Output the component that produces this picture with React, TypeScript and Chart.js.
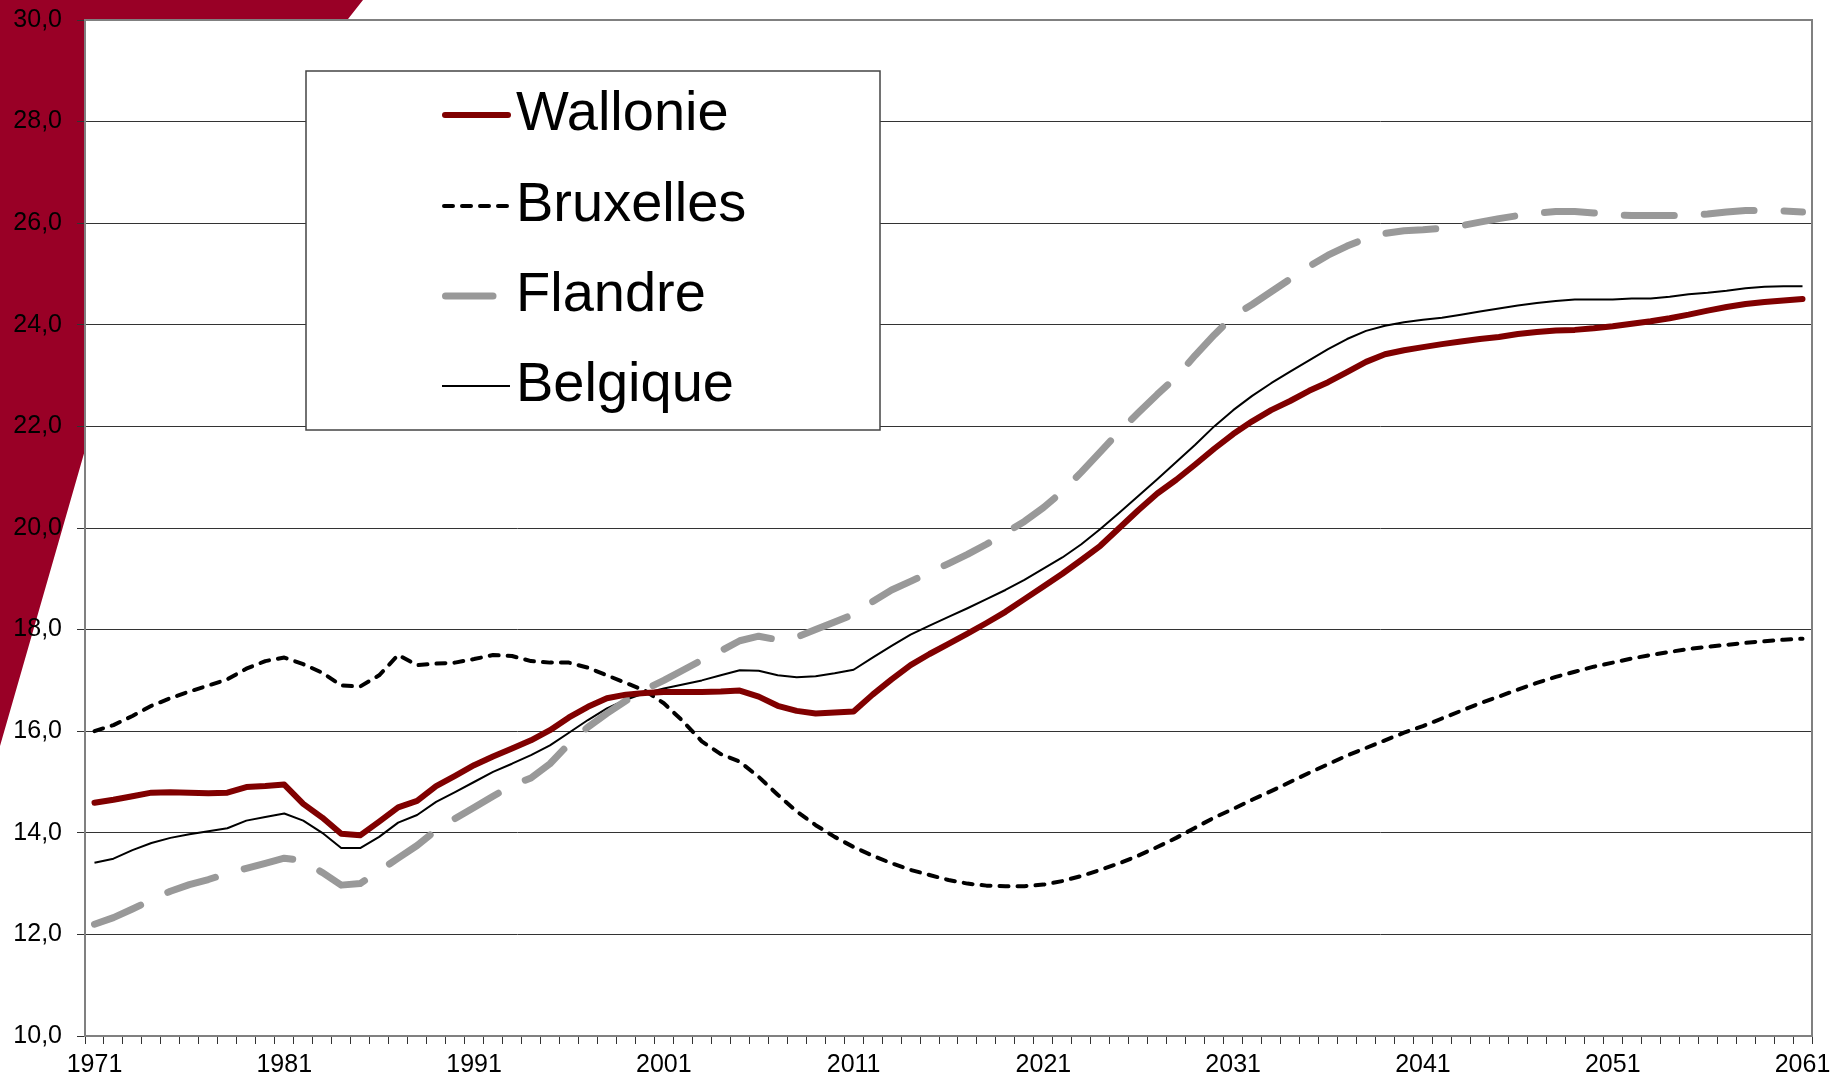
import React, { useEffect, useRef } from "react";
import { Chart, registerables } from "chart.js";

Chart.register(...registerables);

const years = [
  1971, 1972, 1973, 1974, 1975, 1976, 1977, 1978, 1979, 1980,
  1981, 1982, 1983, 1984, 1985, 1986, 1987, 1988, 1989, 1990,
  1991, 1992, 1993, 1994, 1995, 1996, 1997, 1998, 1999, 2000,
  2001, 2002, 2003, 2004, 2005, 2006, 2007, 2008, 2009, 2010,
  2011, 2012, 2013, 2014, 2015, 2016, 2017, 2018, 2019, 2020,
  2021, 2022, 2023, 2024, 2025, 2026, 2027, 2028, 2029, 2030,
  2031, 2032, 2033, 2034, 2035, 2036, 2037, 2038, 2039, 2040,
  2041, 2042, 2043, 2044, 2045, 2046, 2047, 2048, 2049, 2050,
  2051, 2052, 2053, 2054, 2055, 2056, 2057, 2058, 2059, 2060,
  2061,
];

const labeledYears = [1971, 1981, 1991, 2001, 2011, 2021, 2031, 2041, 2051, 2061];

const wallonie = [
  14.59, 14.65, 14.72, 14.79, 14.8, 14.79, 14.78, 14.79, 14.9, 14.92,
  14.95, 14.57, 14.3, 13.98, 13.95, 14.22, 14.5, 14.63, 14.92, 15.12,
  15.33, 15.5, 15.66, 15.82, 16.02, 16.27, 16.48, 16.65, 16.72, 16.75,
  16.77, 16.77, 16.77, 16.78, 16.8, 16.68, 16.5, 16.4, 16.35, 16.37,
  16.39, 16.72, 17.02, 17.3, 17.52, 17.72, 17.92, 18.13, 18.35, 18.6,
  18.85, 19.1, 19.37, 19.65, 20.0, 20.35, 20.68, 20.95, 21.25, 21.56,
  21.85, 22.1, 22.32, 22.5, 22.7, 22.87, 23.07, 23.27, 23.42, 23.5,
  23.56, 23.62, 23.67, 23.72, 23.76, 23.82, 23.86, 23.89, 23.9, 23.93,
  23.97, 24.02, 24.07, 24.13, 24.2, 24.28, 24.35, 24.41, 24.45, 24.48,
  24.51,
];

const bruxelles = [
  16.0, 16.12, 16.3, 16.5, 16.65, 16.78, 16.9, 17.02, 17.23, 17.38,
  17.45, 17.32, 17.15, 16.9, 16.88, 17.1, 17.5, 17.3, 17.33, 17.35,
  17.42, 17.5, 17.48, 17.38, 17.35, 17.35, 17.25, 17.1, 16.95, 16.8,
  16.55, 16.2, 15.8, 15.55, 15.4, 15.1, 14.75, 14.42, 14.15, 13.92,
  13.72, 13.55, 13.4, 13.27, 13.17, 13.07, 13.0, 12.96, 12.95, 12.95,
  12.98, 13.05, 13.15, 13.27, 13.4, 13.55, 13.72, 13.9, 14.1, 14.3,
  14.47, 14.65, 14.82, 15.0, 15.18, 15.35, 15.52, 15.67, 15.82, 15.97,
  16.1, 16.25, 16.4, 16.55, 16.68, 16.82, 16.95, 17.07, 17.17, 17.27,
  17.35, 17.43, 17.5, 17.56, 17.62, 17.66, 17.7, 17.74, 17.77, 17.8,
  17.82,
];

const flandre = [
  12.2, 12.33, 12.5, 12.68, 12.85, 12.98, 13.08, 13.2, 13.3, 13.4,
  13.5, 13.45, 13.22, 12.97, 13.0, 13.25, 13.5, 13.75, 14.05, 14.28,
  14.5, 14.72, 14.93, 15.08, 15.36, 15.75, 16.08, 16.35, 16.6, 16.82,
  17.0, 17.2, 17.4, 17.58, 17.78, 17.87, 17.8, 17.85, 18.0, 18.15,
  18.3, 18.55, 18.78, 18.95, 19.12, 19.3, 19.48, 19.68, 19.9, 20.13,
  20.4, 20.72, 21.1, 21.5, 21.9, 22.27, 22.63, 22.97, 23.4, 23.8,
  24.17, 24.4, 24.65, 24.9, 25.15, 25.37, 25.55, 25.7, 25.8, 25.85,
  25.87, 25.9, 25.95, 26.02, 26.09, 26.15, 26.2, 26.23, 26.23, 26.2,
  26.17, 26.15, 26.15, 26.15, 26.15, 26.18, 26.22, 26.25, 26.25, 26.24,
  26.22,
];

const belgique = [
  13.41, 13.49, 13.66, 13.8, 13.9, 13.97, 14.03, 14.09, 14.24, 14.31,
  14.38, 14.24, 14.0, 13.7, 13.7, 13.92, 14.2, 14.35, 14.61, 14.8,
  15.0, 15.2, 15.36, 15.53, 15.72, 15.97, 16.22, 16.45, 16.62, 16.75,
  16.84, 16.92, 17.0, 17.1, 17.2, 17.19, 17.1, 17.06, 17.08, 17.14,
  17.21, 17.45, 17.68, 17.9, 18.08, 18.25, 18.42, 18.6, 18.78, 18.98,
  19.2, 19.42, 19.68, 19.98, 20.3, 20.63, 20.96, 21.3, 21.64, 22.0,
  22.32, 22.6, 22.85, 23.08, 23.3, 23.52, 23.72, 23.88, 23.98, 24.05,
  24.1, 24.14, 24.2, 24.26, 24.32, 24.38, 24.43, 24.47, 24.5, 24.5,
  24.5, 24.52, 24.52, 24.55, 24.6, 24.63, 24.67, 24.72, 24.75, 24.76,
  24.76,
];

const seriesNames = ["Wallonie", "Bruxelles", "Flandre", "Belgique"];

const FONT = "'Liberation Sans', Arial, sans-serif";
const DECOR_RED = "#990026";

const decorPlugin = {
  id: "decor",
  beforeDraw(chart: any) {
    const { ctx, chartArea } = chart;
    ctx.save();
    ctx.fillStyle = DECOR_RED;
    ctx.beginPath();
    ctx.moveTo(0, 0);
    ctx.lineTo(363, 0);
    ctx.lineTo(300, 80);
    ctx.lineTo(85, 450);
    ctx.lineTo(0, 746);
    ctx.closePath();
    ctx.fill();
    ctx.fillStyle = "#ffffff";
    ctx.fillRect(
      chartArea.left,
      chartArea.top,
      chartArea.right - chartArea.left,
      chartArea.bottom - chartArea.top
    );
    ctx.restore();
  },
  beforeDatasetsDraw(chart: any) {
    const { ctx, chartArea } = chart;
    ctx.save();
    ctx.strokeStyle = "#808080";
    ctx.lineWidth = 2;
    ctx.beginPath();
    ctx.moveTo(chartArea.left, chartArea.top);
    ctx.lineTo(chartArea.right, chartArea.top);
    ctx.lineTo(chartArea.right, chartArea.bottom);
    ctx.stroke();
    ctx.restore();
  },
  afterDatasetsDraw(chart: any) {
    const { ctx, chartArea } = chart;
    const bx = chartArea.left + 221;
    const by = chartArea.top + 51;
    const bw = 574;
    const bh = 359;
    ctx.save();
    ctx.fillStyle = "#ffffff";
    ctx.fillRect(bx, by, bw, bh);
    ctx.strokeStyle = "#444444";
    ctx.lineWidth = 1.5;
    ctx.strokeRect(bx, by, bw, bh);
    const rowYs = [by + 44, by + 135, by + 225, by + 315];
    const x0 = bx + 136;
    const textX = bx + 210;
    chart.data.datasets.forEach((ds: any, i: number) => {
      const y = rowYs[i];
      ctx.save();
      ctx.strokeStyle = ds.borderColor;
      ctx.lineWidth = ds.borderWidth;
      ctx.lineCap = ds.borderCapStyle || "butt";
      ctx.beginPath();
      if (i === 1) {
        ctx.setLineDash(ds.borderDash);
        ctx.moveTo(x0 + 2, y);
        ctx.lineTo(x0 + 66, y);
      } else if (i === 2) {
        ctx.moveTo(x0 + 3.5, y);
        ctx.lineTo(x0 + 51, y);
      } else {
        ctx.moveTo(x0 + (i === 0 ? 3 : 0), y);
        ctx.lineTo(x0 + (i === 0 ? 66 : 68), y);
      }
      ctx.stroke();
      ctx.restore();
      ctx.fillStyle = "#000000";
      ctx.font = `56px ${FONT}`;
      ctx.textBaseline = "middle";
      ctx.textAlign = "left";
      ctx.fillText(ds.label, textX, y);
    });
    ctx.restore();
  },
};

export default function App() {
  const ref = useRef<HTMLCanvasElement>(null);

  useEffect(() => {
    const canvas = ref.current;
    if (!canvas) return;
    const chart = new Chart(canvas, {
      type: "line",
      data: {
        labels: years.map(String),
        datasets: [
          {
            label: seriesNames[0],
            data: wallonie,
            borderColor: "#800000",
            borderWidth: 6,
            borderCapStyle: "round",
            borderJoinStyle: "round",
            pointRadius: 0,
            tension: 0,
          },
          {
            label: seriesNames[1],
            data: bruxelles,
            borderColor: "#000000",
            borderWidth: 4,
            borderDash: [9, 9],
            borderCapStyle: "round",
            borderJoinStyle: "round",
            pointRadius: 0,
            tension: 0,
          },
          {
            label: seriesNames[2],
            data: flandre,
            borderColor: "#999999",
            borderWidth: 7,
            borderDash: [50, 30],
            borderCapStyle: "round",
            borderJoinStyle: "round",
            pointRadius: 0,
            tension: 0,
          },
          {
            label: seriesNames[3],
            data: belgique,
            borderColor: "#000000",
            borderWidth: 2,
            borderCapStyle: "butt",
            borderJoinStyle: "round",
            pointRadius: 0,
            tension: 0,
          },
        ] as any,
      },
      options: {
        responsive: false,
        devicePixelRatio: 1,
        animation: false,
        layout: { padding: { top: 20, right: 21, bottom: 0, left: 0 } },
        plugins: {
          legend: { display: false },
          tooltip: { enabled: false },
        },
        scales: {
          x: {
            type: "category",
            offset: true,
            grid: {
              display: true,
              drawOnChartArea: false,
              drawTicks: true,
              tickLength: 8,
              color: "#333333",
              lineWidth: 1,
              offset: true,
            },
            border: { display: true, color: "#808080", width: 2 },
            ticks: {
              autoSkip: false,
              maxRotation: 0,
              minRotation: 0,
              padding: 6,
              color: "#000000",
              font: { family: FONT, size: 25 },
              callback: (_v: any, i: number) =>
                labeledYears.includes(years[i]) ? String(years[i]) : "",
            },
            afterFit: (s: any) => {
              s.height = 43;
              s.paddingLeft = 0;
              s.paddingRight = 0;
            },
          },
          y: {
            min: 10,
            max: 30,
            grid: {
              color: "#333333",
              lineWidth: 1,
              drawTicks: true,
              tickLength: 8,
            },
            border: { display: true, color: "#808080", width: 2 },
            ticks: {
              stepSize: 2,
              padding: 15,
              color: "#000000",
              font: { family: FONT, size: 25 },
              callback: (v: any) => Number(v).toFixed(1).replace(".", ","),
            },
            afterFit: (s: any) => {
              s.width = 85;
              s.paddingTop = 0;
              s.paddingBottom = 0;
            },
          },
        },
      } as any,
      plugins: [decorPlugin],
    });
    return () => chart.destroy();
  }, []);

  return (
    <div
      style={{
        position: "fixed",
        left: 0,
        top: 0,
        width: 1833,
        height: 1079,
        background: "#ffffff",
        overflow: "hidden",
      }}
    >
      <canvas
        ref={ref}
        width={1833}
        height={1079}
        style={{ display: "block", width: 1833, height: 1079 }}
      />
    </div>
  );
}
